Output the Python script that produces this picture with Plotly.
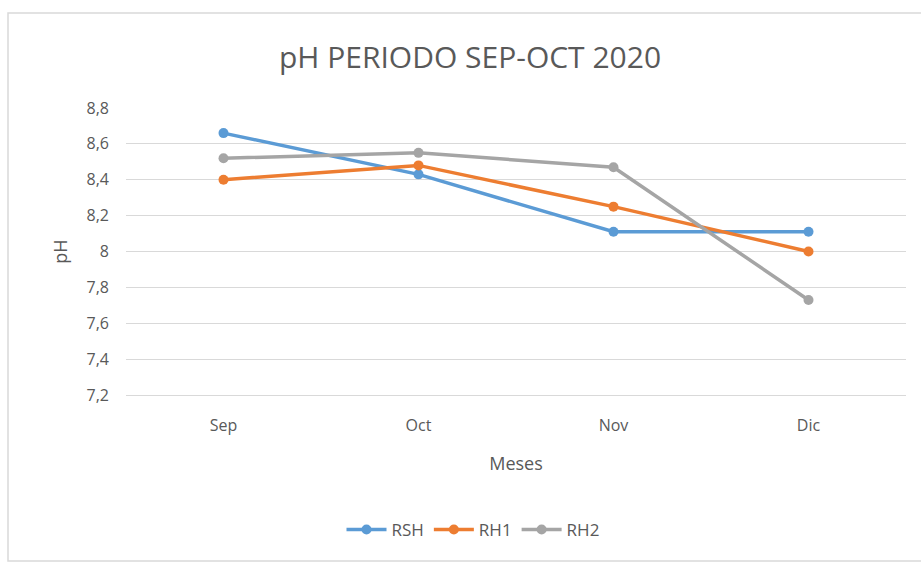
import plotly.graph_objects as go

months = ["Sep", "Oct", "Nov", "Dic"]
rsh = [8.66, 8.43, 8.11, 8.11]
rh1 = [8.40, 8.48, 8.25, 8.00]
rh2 = [8.52, 8.55, 8.47, 7.73]
y_ticks = [7.2, 7.4, 7.6, 7.8, 8.0, 8.2, 8.4, 8.6, 8.8]
y_tick_labels = ["7,2", "7,4", "7,6", "7,8", "8", "8,2", "8,4", "8,6", "8,8"]

series = [("RSH", rsh, "#5B9BD5"), ("RH1", rh1, "#ED7D31"), ("RH2", rh2, "#A5A5A5")]

fig = go.Figure()
for name, vals, col in series:
    fig.add_trace(go.Scatter(
        x=months, y=vals, name=name, mode="lines+markers",
        line=dict(color=col, width=3.5),
        marker=dict(color=col, size=10),
    ))

W, H = 921, 564
L, R, T, B = 126, 15, 108, 169
pw, ph = W - L - R, H - T - B

fig.update_layout(
    width=W, height=H,
    margin=dict(l=L, r=R, t=T, b=B, pad=0),
    paper_bgcolor="white", plot_bgcolor="white",
    separators=",.",
    font=dict(family="Open Sans, Liberation Sans, sans-serif", color="#595959", size=15),
    title=dict(text="pH PERIODO SEP-OCT 2020", x=(470) / W, xanchor="center",
               y=1 - 57 / H, yanchor="middle",
               font=dict(size=30, color="#595959")),
    showlegend=True,
    legend=dict(orientation="h", x=(473 - L) / pw, xanchor="center",
                y=(H - B - 530) / ph, yanchor="middle",
                font=dict(size=17, color="#595959"), itemwidth=40),
    xaxis=dict(showgrid=False, showline=True, linecolor="#D9D9D9", linewidth=1,
               zeroline=False, range=[-0.5, 3.5],
               ticks="", ticklabelstandoff=16, tickfont=dict(size=16),
               title=dict(text="Meses", standoff=22, font=dict(size=18, color="#595959"))),
    yaxis=dict(range=[7.2, 8.8], tickvals=y_ticks, ticktext=y_tick_labels,
               showgrid=True, gridcolor="#D9D9D9", gridwidth=1, zeroline=False,
               showline=False, ticks="", ticklabelstandoff=16, tickfont=dict(size=16),
               title=dict(text="pH", standoff=14, font=dict(size=18, color="#595959"))),
    shapes=[dict(type="rect", xref="paper", yref="paper",
                 x0=(8 - L) / pw, x1=(W + 5 - L) / pw,
                 y0=(H - B - 561) / ph, y1=(H - B - 13) / ph,
                 line=dict(color="#D9D9D9", width=1.5), fillcolor="rgba(0,0,0,0)",
                 layer="below")],
)

fig.write_html("out.html", config={"displayModeBar": False},
               post_script="document.body.style.margin='0';document.body.style.overflow='hidden';")
